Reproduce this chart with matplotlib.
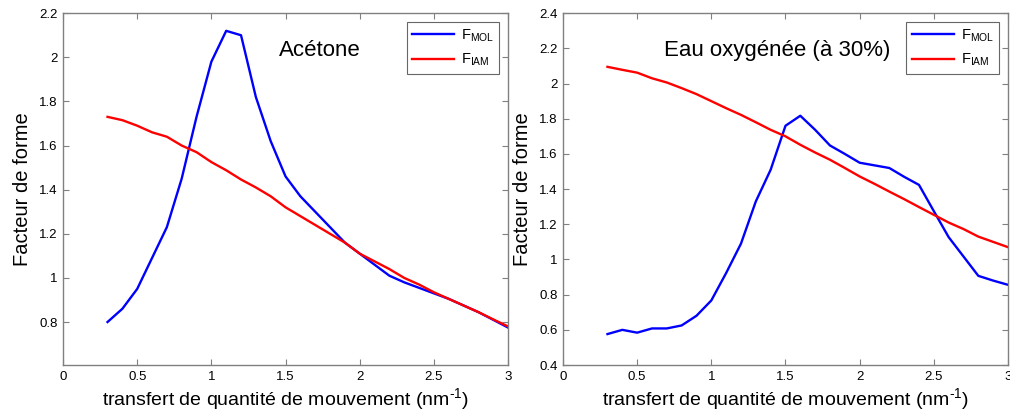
import numpy as np
import matplotlib
matplotlib.use('Agg')
import matplotlib.pyplot as plt
from matplotlib import font_manager

plt.rcParams['font.family'] = ['Liberation Sans', 'DejaVu Sans']
plt.rcParams['mathtext.fontset'] = 'custom'
plt.rcParams['mathtext.rm'] = 'Liberation Sans'

# narrow face for the tick labels if it is there
names = {f.name for f in font_manager.fontManager.ttflist}
tick_family = 'Liberation Sans Narrow' if 'Liberation Sans Narrow' in names else 'Liberation Sans'

# transfert de quantite de mouvement (nm-1)
q = [0.3, 0.4, 0.5, 0.6, 0.7, 0.8, 0.9, 1.0, 1.1, 1.2, 1.3, 1.4, 1.5, 1.6,
     1.7, 1.8, 1.9, 2.0, 2.1, 2.2, 2.3, 2.4, 2.5, 2.6, 2.7, 2.8, 2.9, 3.0]

# Acetone
acetone_mol = [0.80, 0.86, 0.95, 1.09, 1.23, 1.45, 1.73, 1.98, 2.12, 2.10, 1.82, 1.62, 1.46, 1.37,
               1.30, 1.23, 1.16, 1.11, 1.06, 1.01, 0.98, 0.955, 0.93, 0.905, 0.875, 0.845, 0.81, 0.775]
acetone_iam = [1.73, 1.715, 1.69, 1.66, 1.64, 1.60, 1.57, 1.525, 1.488, 1.446, 1.41, 1.37, 1.32, 1.28,
               1.24, 1.20, 1.16, 1.11, 1.075, 1.04, 1.00, 0.97, 0.935, 0.905, 0.875, 0.845, 0.812, 0.78]

# Eau oxygenee (a 30%)
h2o2_mol = [0.576, 0.60, 0.584, 0.608, 0.608, 0.625, 0.68, 0.767, 0.923, 1.09, 1.33, 1.51, 1.76, 1.817,
            1.737, 1.648, 1.60, 1.55, 1.535, 1.52, 1.47, 1.424, 1.275, 1.127, 1.017, 0.907, 0.88, 0.856]
h2o2_iam = [2.095, 2.078, 2.062, 2.03, 2.006, 1.974, 1.94, 1.90, 1.86, 1.822, 1.78, 1.737, 1.70, 1.652,
            1.608, 1.567, 1.52, 1.472, 1.43, 1.386, 1.343, 1.298, 1.254, 1.21, 1.173, 1.13, 1.10, 1.07]

fig = plt.figure(figsize=(10.1, 4.12), dpi=100)
ax1 = fig.add_axes([0.0624, 0.114, 0.4406, 0.854])
ax2 = fig.add_axes([0.5574, 0.114, 0.4406, 0.854])

panels = [
    (ax1, acetone_mol, acetone_iam, 'Acétone', (1.73, 2.03), (0.605, 2.2), np.arange(0.8, 2.21, 0.2)),
    (ax2, h2o2_mol, h2o2_iam, 'Eau oxygénée (à 30%)', (1.447, 2.186), (0.4, 2.4), np.arange(0.4, 2.41, 0.2)),
]

for ax, mol, iam, name, pos, ylim, yt in panels:
    ax.plot(q, mol, color='#0000ff', lw=1.7, label=r'F$_{\mathregular{MOL}}$')
    ax.plot(q, iam, color='#ff0000', lw=1.7, label=r'F$_{\mathregular{IAM}}$')
    ax.set_xlim(0, 3)
    ax.set_ylim(*ylim)
    ax.set_xticks([0, 0.5, 1, 1.5, 2, 2.5, 3])
    ax.set_xticklabels(['0', '0.5', '1', '1.5', '2', '2.5', '3'], family=tick_family)
    ax.set_yticks(yt)
    ax.set_yticklabels(['%g' % round(v, 1) for v in yt], family=tick_family)
    ax.tick_params(direction='in', top=True, right=True, length=4, width=0.8,
                   color='#808080', labelsize=9.5, pad=4)
    for sp in ax.spines.values():
        sp.set_color('#808080')
        sp.set_linewidth(1.0)
    ax.text(pos[0], pos[1], name, ha='center', va='center', fontsize=16)
    ax.set_xlabel(r'transfert de quantité de mouvement (nm$^{\text{-1}}$)', fontsize=14, labelpad=3)
    ax.set_ylabel('Facteur de forme', fontsize=14.5, labelpad=5)
    leg = ax.legend(loc='upper right', fontsize=10.5, frameon=True, fancybox=False,
                    edgecolor='#404040', borderaxespad=0.6, handlelength=2.9,
                    borderpad=0.35, labelspacing=0.55, handletextpad=0.5)
    leg.get_frame().set_linewidth(0.8)

fig.savefig('out.png', dpi=100)
